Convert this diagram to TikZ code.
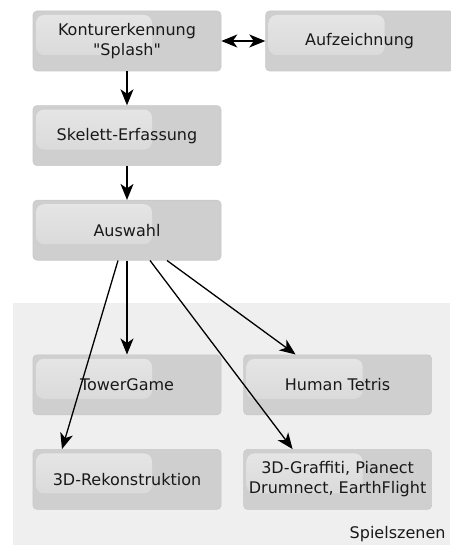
\documentclass[tikz,border=0pt]{standalone}
\usepackage{fontspec}
\setmainfont{DejaVu Sans}
\usepackage{tikz}
\usetikzlibrary{arrows.meta, positioning}

\definecolor{boxgray}{HTML}{CFCFCF}
\definecolor{boxline}{HTML}{C8C8C8}
\definecolor{glosstop}{HTML}{E6E6E6}
\definecolor{glossbot}{HTML}{D6D6D6}
\definecolor{szenebg}{HTML}{EFEFEF}

\begin{document}
\begin{tikzpicture}[
    x=1pt, y=1pt,
    node distance=34pt and 44pt,
    prozess/.style={rectangle, rounded corners=4pt, minimum width=188pt, minimum height=60pt, align=center, inner sep=2pt, fill=boxgray, draw=boxline, line width=0.6pt, font=\fontsize{16}{20}\selectfont, text=black!90,
        path picture={\fill[top color=glosstop, bottom color=glossbot, rounded corners=8pt] ([xshift=3pt,yshift=-4pt]path picture bounding box.north west) rectangle ++(116,-40);}},
    spitze/.tip={Stealth[length=16pt, width=13pt, inset=4.5pt]},
    line/.style={draw, line width=1.3pt, -spitze}
]

% Bereich Spielszenen
\fill[szenebg] (13,-303) rectangle (450,-545);
\useasboundingbox (0,0) rectangle (450,-545);

% Oben
\node[prozess] (kontur) at (127,-41) {Konturerkennung\\\textquotedbl Splash\textquotedbl};
\node[prozess, right=of kontur] (aufz) {Aufzeichnung};
\node[prozess, below=of kontur] (skelett) {Skelett-Erfassung};
\node[prozess, below=of skelett] (auswahl) {Auswahl};

% Spielszenen
\node[prozess, below=94pt of auswahl] (tower) {TowerGame};
\node[prozess, right=22pt of tower] (tetris) {Human Tetris};
\node[prozess, below=of tower] (rekon) {3D-Rekonstruktion};
\node[prozess, below=of tetris] (graffiti) {3D-Graffiti, Pianect\\Drumnect, EarthFlight};
\node[anchor=base east, font=\fontsize{16}{20}\selectfont, text=black!90] (szenen) at (449,-538) {Spielszenen};

% Pfeile
\draw[line, spitze-spitze] (kontur) -- (aufz);
\draw[line] (kontur) -- (skelett);
\draw[line] (skelett) -- (auswahl);
\draw[line] (auswahl) -- (tower);
\draw[line] ([xshift=-9pt]auswahl.south) -- ([xshift=-65pt]rekon.north);
\draw[line] ([xshift=23pt]auswahl.south) -- ([xshift=-45pt]graffiti.north);
\draw[line] ([xshift=40pt]auswahl.south) -- ([xshift=-42pt]tetris.north);
\end{tikzpicture}
\end{document}
